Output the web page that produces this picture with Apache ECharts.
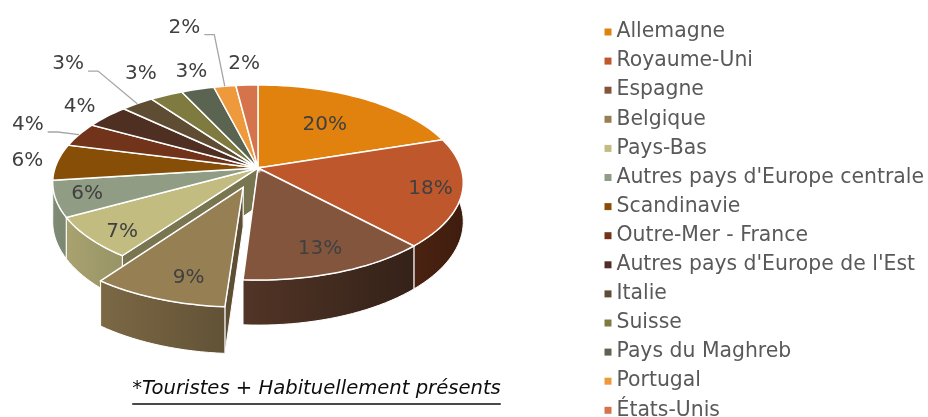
<!DOCTYPE html>
<html>
<head>
<meta charset="utf-8">
<script src="https://cdn.jsdelivr.net/npm/echarts@6/dist/echarts.min.js"></script>
<style>
html, body { margin: 0; padding: 0; background: #fff; }
#chart { width: 928px; height: 417px; }
</style>
</head>
<body>
<div id="chart"></div>
<script>
/***** data *****/
var countries = ['Allemagne', 'Royaume-Uni', 'Espagne', 'Belgique', 'Pays-Bas',
	"Autres pays d'Europe centrale", 'Scandinavie', 'Outre-Mer - France',
	"Autres pays d'Europe de l'Est", 'Italie', 'Suisse', 'Pays du Maghreb',
	'Portugal', 'États-Unis'];
var shares = [20, 18, 13, 9, 7, 6, 6, 4, 4, 3, 3, 3, 2, 2];
var colors = ['#E1820F', '#BE572B', '#84553D', '#977F54', '#C2BC81', '#909D84', '#874E08',
	'#71331A', '#4E2F22', '#5E4C33', '#7F7B40', '#5A6450', '#EE9A3C', '#D5744C'];
var exploded = 'Belgique';
var caption = '*Touristes + Habituellement présents';

// label placement: radius factor on the top face, and manual nudges (px)
var labelR = [0.6, 0.85, 0.8, 0.75, 0.82, 0.85, 1.15, 1.15, 1.2, 1.15, 1.3, 1.3, 1.3, 1.3];
var labelNudge = [null, null, null, [7, 10], [0, 8], null, null, [-26, -5], null, [-53, -31], [-2, -3], [9, 2], [-32, -38], null];
var leaderFor = ['Outre-Mer - France', 'Italie', 'Portugal'];

var FONT = '"DejaVu Sans"';
var total = shares.reduce(function (a, b) { return a + b; }, 0);
var starts = [];
var acc = 0;
shares.forEach(function (v) { starts.push(acc); acc += v; });

var measureCtx = document.createElement('canvas').getContext('2d');
function textWidth(txt, font) {
	measureCtx.font = font;
	return measureCtx.measureText(txt).width;
}

function shade(hex, f) {
	var n = parseInt(hex.slice(1), 16);
	var r = Math.round(((n >> 16) & 255) * f), g = Math.round(((n >> 8) & 255) * f), b = Math.round((n & 255) * f);
	return 'rgb(' + r + ',' + g + ',' + b + ')';
}
function rad(d) { return d * Math.PI / 180; }

/***** 3d slice *****/
function renderSlice(params, api) {
	var i = params.seriesIndex;
	var v = api.value(0);
	var a0 = starts[i] / total * 360, a1 = a0 + v / total * 360, am = (a0 + a1) / 2;
	var cx = api.getWidth() * 0.278, cy = 168, sx = 203, sy = 95.4, k = 0.149, hs = 38.3;
	var isEx = countries[i] === exploded;
	var ex = isEx ? 0.21 * Math.sin(rad(am)) : 0, ez = isEx ? 0.21 * Math.cos(rad(am)) : 0;
	var col = colors[i];

	function pt(deg, r, d) {
		var x = r * Math.sin(rad(deg)) + ex, z = r * Math.cos(rad(deg)) + ez;
		var p = 1 / (1 + k * z);
		return [cx + sx * x * p, cy + (-sy * z + hs * d) * p];
	}
	function depthKey(deg, r) { return (1.5 - (r * Math.cos(rad(deg)) + ez)) * 10; }

	var n = Math.max(2, Math.ceil((a1 - a0) / 2));
	var arcTop = [], arcBot = [];
	for (var j = 0; j <= n; j++) {
		var a = a0 + (a1 - a0) * j / n;
		arcTop.push(pt(a, 1, 0));
		arcBot.push(pt(a, 1, 1));
	}
	var apex = pt(0, 0, 0), apexB = pt(0, 0, 1);
	var base = isEx ? 150 : 10;
	var children = [];

	// radial walls
	[a0, a1].forEach(function (a) {
		children.push({
			type: 'polygon', z2: base + depthKey(a, 0.5),
			shape: { points: [apex, pt(a, 1, 0), pt(a, 1, 1), apexB] },
			style: { fill: shade(col, 0.62), stroke: '#fff', lineWidth: 1 }
		});
	});
	// outer wall
	children.push({
		type: 'polygon', z2: base + 40 + depthKey(am, 1),
		shape: { points: arcTop.concat(arcBot.slice().reverse()) },
		style: {
			fill: {
				type: 'linear', x: cx - sx, y: 0, x2: cx + sx, y2: 0, global: true,
				colorStops: [
					{ offset: 0, color: shade(col, 0.88) },
					{ offset: 0.5, color: shade(col, 0.6) },
					{ offset: 1, color: shade(col, 0.33) }
				]
			},
			stroke: '#fff', lineWidth: 1
		}
	});
	// top face
	children.push({
		type: 'polygon', z2: isEx ? 250 : 100,
		shape: { points: [apex].concat(arcTop) },
		style: { fill: col, stroke: '#fff', lineWidth: 1.5 }
	});

	// label
	var font = '20px ' + FONT;
	var txt = v + '%';
	var lp = pt(am, labelR[i], 0);
	var nudge = labelNudge[i];
	if (nudge) lp = [lp[0] + nudge[0], lp[1] + nudge[1]];
	if (leaderFor.indexOf(countries[i]) >= 0) {
		var s = [lp[0] + textWidth(txt, font) / 2 + 4, lp[1] + 7];
		children.push({
			type: 'polyline', z2: 300,
			shape: { points: [s, [s[0] + 10, s[1]], pt(am, 1, 0)] },
			style: { stroke: '#A6A6A6', lineWidth: 1.3, fill: null }
		});
	}
	children.push({
		type: 'text', z2: 310,
		style: {
			text: txt, x: lp[0], y: lp[1], font: font, fill: '#404040',
			align: 'center', verticalAlign: 'middle', textAlign: 'center', textVerticalAlign: 'middle'
		}
	});

	return { type: 'group', children: children };
}

var myChart = echarts.init(document.getElementById('chart'));

var capFont = 'italic 19.6px ' + FONT;
var capW = textWidth(caption, capFont);
var capX = 316.5;

var option = {
	animation: false,
	color: colors,
	legend: {
		orient: 'vertical',
		left: 604.5,
		top: 22,
		height: 410,
		padding: 0,
		itemWidth: 7,
		itemHeight: 7,
		itemGap: 9.1,
		icon: 'rect',
		selectedMode: false,
		textStyle: { fontFamily: 'DejaVu Sans', fontSize: 20.4, color: '#595959' },
		data: countries
	},
	graphic: [
		{
			type: 'text', z: 10,
			style: {
				text: caption, x: capX, y: 389, font: capFont, fill: '#0D0D0D',
				align: 'center', verticalAlign: 'middle', textAlign: 'center', textVerticalAlign: 'middle'
			}
		},
		{
			type: 'line', z: 10,
			shape: { x1: capX - capW / 2, y1: 404, x2: capX + capW / 2, y2: 404 },
			style: { stroke: '#0D0D0D', lineWidth: 1.5 }
		}
	],
	series: countries.map(function (name, i) {
		return {
			name: name,
			type: 'custom',
			coordinateSystem: 'none',
			renderItem: renderSlice,
			data: [shares[i]]
		};
	})
};
myChart.setOption(option);
</script>
</body>
</html>
